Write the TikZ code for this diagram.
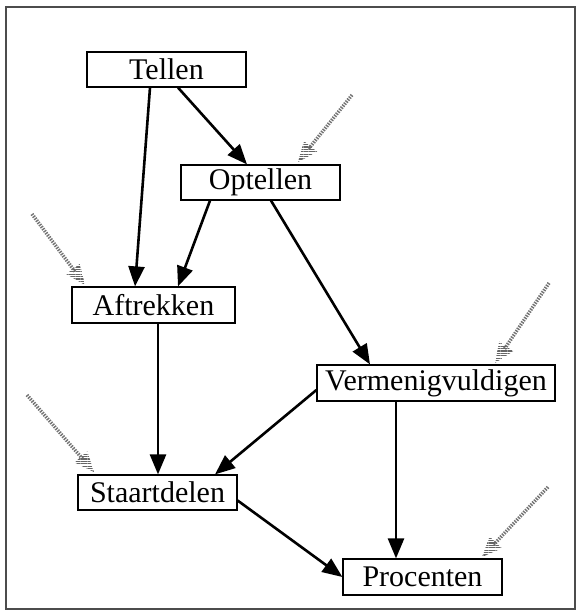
\documentclass[tikz,border=0pt]{standalone}
\usepackage{fontspec}
\setmainfont{Liberation Serif}
\usetikzlibrary{arrows.meta,calc,patterns.meta}
\newcommand\hintarrow[2]{%
  \draw[hint] (#1) -- ($(#2)!17pt!(#1)$);
  \fill[pattern={Lines[angle=0,distance=2.4pt,line width=1.3pt]},pattern color=black!60]
    (#2) -- ($($(#2)!20pt!(#1)$)!8.5pt!90:(#2)$) -- ($($(#2)!20pt!(#1)$)!8.5pt!-90:(#2)$) -- cycle;}
\begin{document}
\begin{tikzpicture}[x=1pt,y=-1pt,
  box/.style={draw,line width=1.2pt,minimum height=35pt,inner sep=0pt,font=\fontsize{30}{35}\selectfont},
  arr/.style={line width=2.6pt,-{Triangle[length=20pt,width=16pt]}},
  hint/.style={draw=black!55,line width=3.5pt,dash pattern=on 1.4pt off 1.2pt},
]
\useasboundingbox (0,0) rectangle (581,615);
\draw[line width=1.5pt,black!70] (6,7) rectangle (575,609);

\node[box,minimum width=159pt] (tel) at (166.5,69.5) {Tellen};
\node[box,minimum width=159pt] (opt) at (260.5,182.5) {Optellen};
\node[box,minimum width=163pt,minimum height=36pt] (aft) at (153.5,305) {Aftrekken};
\node[box,minimum width=238pt,minimum height=36pt] (ver) at (436,383) {Vermenigvuldigen};
\node[box,minimum width=159pt] (sta) at (157.5,492.5) {Staartdelen};
\node[box,minimum width=159pt,minimum height=36pt] (pro) at (422.5,577) {Procenten};

\draw[arr] ([xshift=-16.5pt]tel.south) -- ([xshift=-18.5pt]aft.north);
\draw[arr] ([xshift=11.5pt]tel.south) -- ([xshift=-13.5pt]opt.north);
\draw[arr] ([xshift=-50.5pt]opt.south) -- ([xshift=24.5pt]aft.north);
\draw[arr] ([xshift=10.5pt]opt.south) -- ([xshift=-66pt]ver.north);
\draw[arr] ([xshift=4.5pt]aft.south) -- ([xshift=0.5pt]sta.north);
\draw[arr] ([yshift=-7pt]ver.west) -- ([xshift=57.5pt]sta.north);
\draw[arr] ([xshift=-40pt]ver.south) -- ([xshift=-26.5pt]pro.north);
\draw[arr] ([yshift=-8pt]sta.east) -- (pro.west);

\coordinate (g1s) at (352,95);  \coordinate (g1t) at (298,162);
\coordinate (g2s) at (32,214);  \coordinate (g2t) at (85,285);
\coordinate (g3s) at (549,283); \coordinate (g3t) at (495,363);
\coordinate (g4s) at (27,395);  \coordinate (g4t) at (94,472);
\coordinate (g5s) at (548,487); \coordinate (g5t) at (482,557);
\hintarrow{g1s}{g1t}
\hintarrow{g2s}{g2t}
\hintarrow{g3s}{g3t}
\hintarrow{g4s}{g4t}
\hintarrow{g5s}{g5t}
\end{tikzpicture}
\end{document}
